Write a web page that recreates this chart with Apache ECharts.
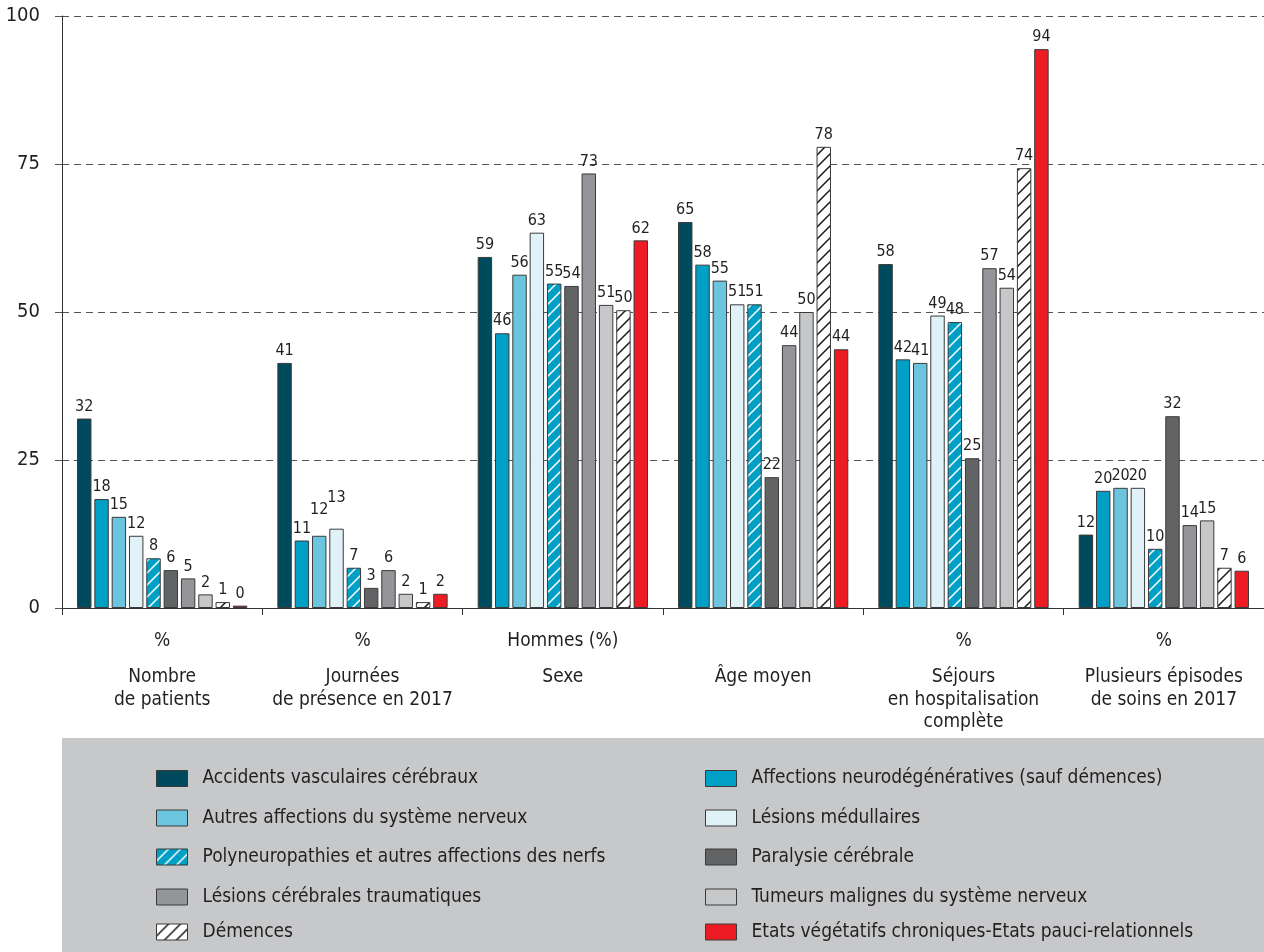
<!DOCTYPE html>
<html lang="fr">
<head>
<meta charset="utf-8">
<title>Caractéristiques des patients par groupe de pathologies</title>
<script src="https://cdn.jsdelivr.net/npm/echarts@6/dist/echarts.min.js"></script>
<style>
  html, body { margin: 0; padding: 0; background: #ffffff; }
  #chart { width: 1264px; height: 952px; }
</style>
</head>
<body>
<div id="chart"></div>
<script>
// Indicator groups on the x axis (name lines) and the unit line shown above each name
const categories = [
  'Nombre\nde patients',
  'Journées\nde présence en 2017',
  'Sexe',
  'Âge moyen',
  'Séjours\nen hospitalisation\ncomplète',
  'Plusieurs épisodes\nde soins en 2017'
];
const units = ['%', '%', 'Hommes (%)', '', '%', '%'];

// Value-axis ticks
const yTicks = [0, 25, 50, 75, 100];

// One array per pathology group, one value per indicator group
const accidentsVasculaires = [32.0, 41.4, 59.3, 65.2, 58.1, 12.4];
const neurodegeneratives   = [18.4, 11.4, 46.4, 58.0, 42.0, 19.8];
const autresAffections     = [15.4, 12.2, 56.3, 55.3, 41.4, 20.3];
const lesionsMedullaires   = [12.2, 13.4, 63.4, 51.3, 49.4, 20.3];
const polyneuropathies     = [8.4, 6.8, 54.8, 51.3, 48.3, 10.0];
const paralysieCerebrale   = [6.4, 3.4, 54.4, 22.1, 25.3, 32.4];
const lesionsTraumatiques  = [5.0, 6.4, 73.4, 44.4, 57.4, 14.0];
const tumeursMalignes      = [2.3, 2.4, 51.2, 50.0, 54.1, 14.8];
const demences             = [1.0, 1.0, 50.3, 77.9, 74.3, 6.8];
const etatsVegetatifs      = [0.4, 2.4, 62.1, 43.7, 94.4, 6.3];

const seriesNames = [
  'Accidents vasculaires cérébraux',
  'Affections neurodégénératives (sauf démences)',
  'Autres affections du système nerveux',
  'Lésions médullaires',
  'Polyneuropathies et autres affections des nerfs',
  'Paralysie cérébrale',
  'Lésions cérébrales traumatiques',
  'Tumeurs malignes du système nerveux',
  'Démences',
  'Etats végétatifs chroniques-Etats pauci-relationnels'
];
const seriesValues = [
  accidentsVasculaires, neurodegeneratives, autresAffections, lesionsMedullaires,
  polyneuropathies, paralysieCerebrale, lesionsTraumatiques, tumeursMalignes,
  demences, etatsVegetatifs
];

// ---- styling ----
const FONT = '"Liberation Sans Narrow", "Arial Narrow", "DejaVu Sans Condensed", sans-serif';
const INK = '#231f20';
const EDGE = '#3a3a3a';

// Repeating tile with "/" diagonal strokes over a solid fill
function hatchPattern(fill, stroke) {
  const T = 12;
  const c = document.createElement('canvas');
  c.width = T; c.height = T;
  const g = c.getContext('2d');
  g.fillStyle = fill;
  g.fillRect(0, 0, T, T);
  g.strokeStyle = stroke;
  g.lineWidth = 1.5;
  g.beginPath();
  g.moveTo(-1, T + 1); g.lineTo(T + 1, -1);
  g.moveTo(-1, 1); g.lineTo(1, -1);
  g.moveTo(T - 1, T + 1); g.lineTo(T + 1, T - 1);
  g.stroke();
  return { image: c, repeat: 'repeat' };
}

const styles = [
  { color: '#004a5d' },
  { color: '#009fc5' },
  { color: '#6cc5de' },
  { color: '#e0f1f8' },
  { color: hatchPattern('#009fc5', '#ffffff') },
  { color: '#626365' },
  { color: '#939598' },
  { color: '#c6c7c9' },
  { color: hatchPattern('#ffffff', '#1a1a1a') },
  { color: '#ed1c24' }
];

// Extra lift (px) for a few value labels that sit above their neighbours
const labelLift = { '2-1': 14, '3-1': 19 };

const series = seriesNames.map((name, i) => ({
  name,
  type: 'bar',
  barGap: '20%',
  barCategoryGap: '15%',
  itemStyle: Object.assign({ borderColor: EDGE, borderWidth: 1 }, styles[i]),
  data: seriesValues[i].map((v, j) => {
    const lift = labelLift[i + '-' + j];
    return lift ? { value: v, label: { offset: [0, -lift] } } : v;
  }),
  label: {
    show: true,
    position: 'top',
    distance: 4,
    color: INK,
    fontFamily: FONT,
    fontSize: 16,
    formatter: p => String(Math.round(p.value))
  },
  emphasis: { disabled: true }
}));

// Two-column legend, one block per entry
const colX = [156, 705];
const rowY = [779, 818.5, 857.5, 897.5, 932.5];
const legends = seriesNames.map((name, i) => ({
  data: [name],
  left: colX[i % 2],
  top: rowY[Math.floor(i / 2)] - 10,
  padding: 0,
  icon: 'rect',
  itemWidth: 31,
  itemHeight: 16,
  selectedMode: false,
  itemStyle: { borderColor: EDGE, borderWidth: 1 },
  textStyle: { color: INK, fontFamily: FONT, fontSize: 19, padding: [0, 0, 0, 10] }
}));

const chart = echarts.init(document.getElementById('chart'), null, { renderer: 'canvas' });
chart.setOption({
  animation: false,
  backgroundColor: '#ffffff',
  textStyle: { fontFamily: FONT },
  grid: { left: 62, top: 16, width: 1208, height: 592, containLabel: false },
  graphic: [{
    type: 'rect',
    z: -10,
    shape: { x: 62, y: 738, width: 1202, height: 214 },
    style: { fill: '#c7c8ca' },
    silent: true
  }],
  legend: legends,
  xAxis: {
    type: 'category',
    data: categories,
    axisLine: { lineStyle: { color: '#333333', width: 1 } },
    axisTick: { show: true, length: 7, lineStyle: { color: '#333333' } },
    axisLabel: {
      interval: 0,
      margin: 22,
      color: INK,
      fontFamily: FONT,
      formatter: (value, idx) => {
        const u = units[idx] || ' ';
        return '{u|' + u + '}\n{s| }\n' + value.split('\n').map(l => '{n|' + l + '}').join('\n');
      },
      rich: {
        u: { fontFamily: FONT, fontSize: 19, lineHeight: 22, color: INK },
        s: { fontSize: 4, lineHeight: 14 },
        n: { fontFamily: FONT, fontSize: 19, lineHeight: 22.5, color: INK }
      }
    }
  },
  yAxis: {
    type: 'value',
    min: yTicks[0],
    max: yTicks[yTicks.length - 1],
    interval: yTicks[1] - yTicks[0],
    axisLine: { show: true, lineStyle: { color: '#333333', width: 1 } },
    axisTick: { show: true, length: 7, lineStyle: { color: '#555555' } },
    axisLabel: { margin: 22, color: INK, fontFamily: FONT, fontSize: 20 },
    splitLine: { show: true, lineStyle: { color: '#555555', width: 1, type: [7, 5] } }
  },
  series
});
</script>
</body>
</html>
